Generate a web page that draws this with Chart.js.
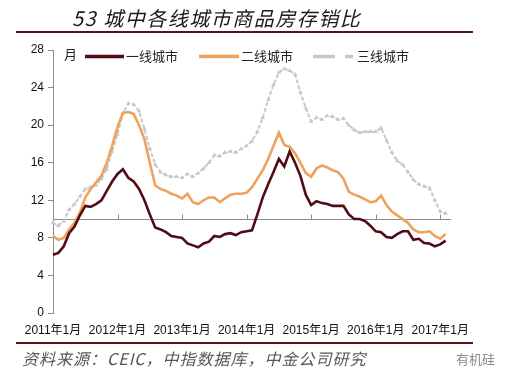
<!DOCTYPE html>
<html>
<head>
<meta charset="utf-8">
<script src="https://cdn.jsdelivr.net/npm/chart.js@4.4.1/dist/chart.umd.min.js"></script>
<style>
html,body{margin:0;padding:0;background:#fff;}
#wrap{position:relative;width:508px;height:379px;overflow:hidden;}
#c{position:absolute;left:0;top:0;}
.t{position:absolute;white-space:nowrap;font-family:"Noto Sans CJK SC","Liberation Sans",sans-serif;}
.rule{position:absolute;left:16px;width:457px;height:2px;background:#5a1416;}
</style>
</head>
<body>
<div id="wrap">
<canvas id="c" width="508" height="379"></canvas>
<div class="t" style="left:72px;top:3px;font-size:20px;font-style:italic;color:#1a1a1a;letter-spacing:1.5px;">53 城中各线城市商品房存销比</div>
<div class="rule" style="top:31px;"></div>
<div class="rule" style="top:342px;"></div>
<div class="t" style="left:22px;top:346px;font-size:16px;font-style:italic;color:#555;letter-spacing:1px;">资料来源：CEIC，中指数据库，中金公司研究</div>
<div class="t" style="left:456px;top:349px;font-size:13px;color:#8a8a8a;">有机硅</div>
</div>
<script>
// categories: monthly, 2011年1月 .. 2017年2月 (+ one empty slot to end the axis)
const years = [2011, 2012, 2013, 2014, 2015, 2016, 2017];
const months = [];
for (const y of years) for (let m = 1; m <= 12; m++) months.push(y + '年' + m + '月');
const categories = months.slice(0, 75);

const seriesNames = ['一线城市', '二线城市', '三线城市'];

const tier1 = [6.2, 6.4, 7.1, 8.5, 9.2, 10.4, 11.4, 11.3, 11.6, 12.0, 13.0, 14.0, 14.8, 15.3, 14.4, 14.0, 13.2, 12.0, 10.5, 9.1, 8.9, 8.6, 8.2, 8.1,
  8.0, 7.4, 7.2, 7.0, 7.4, 7.6, 8.2, 8.1, 8.4, 8.5, 8.3, 8.6, 8.7, 8.8, 10.5, 12.3, 13.7, 15.0, 16.4, 15.6, 17.2, 16.0, 14.6, 12.6,
  11.5, 11.9, 11.7, 11.6, 11.4, 11.4, 11.4, 10.5, 10.0, 10.0, 9.8, 9.3, 8.7, 8.6, 8.1, 8.0, 8.4, 8.7, 8.7, 7.8, 7.9, 7.45, 7.4, 7.1, 7.3, 7.7];

const tier2 = [8.2, 7.8, 8.0, 8.9, 9.6, 10.7, 12.3, 13.2, 13.9, 14.6, 16.0, 17.8, 19.8, 21.3, 21.4, 21.2, 20.0, 18.5, 16.0, 13.6, 13.2, 13.0, 12.7, 12.5,
  12.2, 12.7, 11.8, 11.6, 12.0, 12.3, 12.3, 11.8, 12.2, 12.6, 12.7, 12.7, 12.8, 13.4, 14.3, 15.2, 16.4, 17.8, 19.2, 17.9, 17.7, 17.0, 16.0, 14.9,
  14.5, 15.4, 15.7, 15.5, 15.2, 15.0, 14.3, 12.9, 12.6, 12.4, 12.1, 11.8, 11.9, 12.5, 11.5, 10.8, 10.4, 10.0, 9.6, 8.9, 8.6, 8.6, 8.7, 8.2, 7.9, 8.4];

const tier3 = [9.6, 9.3, 9.8, 11.0, 11.6, 12.4, 13.2, 13.4, 13.6, 14.3, 15.3, 17.2, 19.0, 21.3, 22.3, 22.2, 21.5, 19.6, 17.5, 15.8, 15.0, 14.7, 14.5, 14.5,
  14.4, 14.8, 14.5, 14.9, 15.4, 16.0, 16.8, 16.7, 17.1, 17.2, 17.1, 17.5, 17.8, 18.3, 19.3, 20.8, 22.7, 24.3, 25.6, 26.0, 25.8, 25.4, 23.5, 21.8,
  20.4, 20.8, 20.6, 21.0, 20.9, 20.6, 20.7, 20.0, 19.5, 19.2, 19.3, 19.3, 19.3, 19.7, 18.4, 17.1, 16.2, 15.8, 15.0, 14.2, 13.7, 13.5, 13.3, 12.0, 10.8, 10.6];

const yTicks = [0, 4, 8, 12, 16, 20, 24, 28];
const crossValue = 10;
const yUnit = '月';

const colors = ['#520c16', '#eea25c', '#c8c8c8'];

const deco = {
  id: 'deco',
  beforeDatasetsDraw(chart) {
    const ctx = chart.ctx, x = chart.scales.x, y = chart.scales.y;
    const yy = Math.round(y.getPixelForValue(crossValue)) + 0.5;
    ctx.save();
    ctx.strokeStyle = '#8c8c8c';
    ctx.lineWidth = 1;
    ctx.beginPath();
    ctx.moveTo(chart.chartArea.left, yy);
    ctx.lineTo(chart.chartArea.right, yy);
    for (let i = 12; i < categories.length; i += 12) {
      const xx = Math.round(x.getPixelForValue(i)) + 0.5;
      ctx.moveTo(xx, yy);
      ctx.lineTo(xx, yy - 5);
    }
    ctx.stroke();
    ctx.restore();
  },
  afterDraw(chart) {
    const ctx = chart.ctx;
    ctx.save();
    ctx.fillStyle = '#222';
    ctx.font = '13px "Noto Sans CJK SC"';
    ctx.textBaseline = 'middle';
    ctx.fillText(yUnit, 64, 54);
    const items = [
      {x1: 85, x2: 124, tx: 126, w: 3.5, dash: []},
      {x1: 199, x2: 239, tx: 241, w: 3.5, dash: []},
      {x1: 313, x2: 353, tx: 357, w: 3.5, dash: [22, 10]}
    ];
    items.forEach((it, k) => {
      ctx.strokeStyle = colors[k];
      ctx.lineWidth = it.w;
      ctx.setLineDash(it.dash);
      ctx.beginPath();
      ctx.moveTo(it.x1, 56.5);
      ctx.lineTo(it.x2, 56.5);
      ctx.stroke();
      ctx.setLineDash([]);
      ctx.fillStyle = '#222';
      ctx.fillText(seriesNames[k], it.tx, 56);
    });
    ctx.restore();
  }
};

new Chart(document.getElementById('c'), {
  type: 'line',
  data: {
    labels: categories,
    datasets: [
      {label: seriesNames[0], data: tier1, borderColor: colors[0], backgroundColor: colors[0], borderWidth: 2.6, pointRadius: 0, tension: 0},
      {label: seriesNames[1], data: tier2, borderColor: colors[1], backgroundColor: colors[1], borderWidth: 2.6, pointRadius: 0, tension: 0},
      {label: seriesNames[2], data: tier3, borderColor: colors[2], backgroundColor: colors[2], borderWidth: 2, borderDash: [4, 2],
       pointStyle: 'triangle', pointRadius: 2.6, pointBorderWidth: 0, pointBackgroundColor: colors[2], tension: 0}
    ]
  },
  options: {
    responsive: false,
    animation: false,
    devicePixelRatio: 1,
    layout: {padding: {top: 50, left: 0, right: 57, bottom: 0}},
    plugins: {legend: {display: false}, tooltip: {enabled: false}},
    scales: {
      x: {
        type: 'category',
        offset: false,
        afterFit(s) { s.height = 66; },
        grid: {display: false},
        border: {display: false},
        ticks: {
          autoSkip: false, maxRotation: 0, minRotation: 0, padding: 2,
          color: '#111', font: {family: '"Liberation Sans", "Noto Sans CJK SC"', size: 12},
          callback(v, i) { return (i % 12 === 0 && i < 74) ? categories[i] : ''; }
        }
      },
      y: {
        min: 0, max: 28,
        afterFit(s) { s.width = 53; },
        afterBuildTicks(s) { s.ticks = yTicks.map(v => ({value: v})); },
        grid: {drawOnChartArea: false, tickLength: 5, color: '#8c8c8c'},
        border: {display: true, color: '#8c8c8c', width: 1},
        ticks: {padding: 4, color: '#111', font: {family: '"Liberation Sans"', size: 12}}
      }
    }
  },
  plugins: [deco]
});
</script>
</body>
</html>
